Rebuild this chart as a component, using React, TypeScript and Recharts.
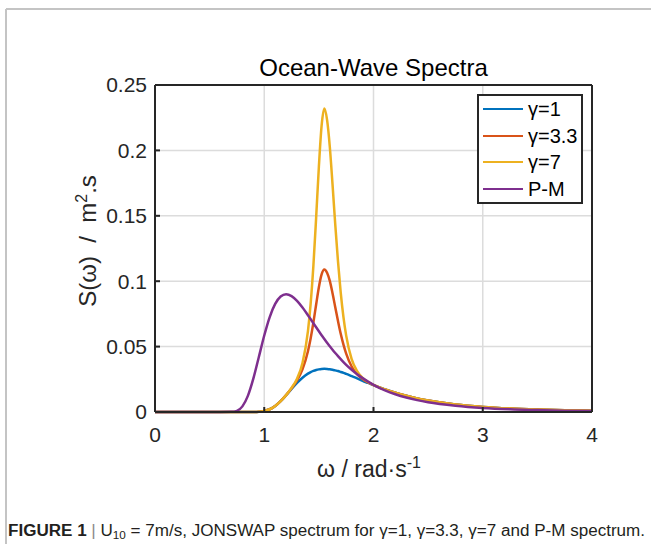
import React from 'react';
import { LineChart, Line, XAxis, YAxis, CartesianGrid, Legend } from 'recharts';

// angular frequency (rad/s)
const OMEGA = [0, 0.25, 0.5, 0.6, 0.7, 0.75, 0.8, 0.85, 0.9, 0.95, 1.0, 1.05, 1.1, 1.15, 1.2, 1.25, 1.3, 1.35, 1.4, 1.425, 1.45, 1.475, 1.5, 1.525, 1.55, 1.575, 1.6, 1.625, 1.65, 1.675, 1.7, 1.725, 1.75, 1.8, 1.85, 1.9, 1.95, 2.0, 2.1, 2.2, 2.3, 2.4, 2.5, 2.75, 3.0, 3.25, 3.5, 3.75, 4.0];

// S(w) per spectrum
const S_G1 = [0, 0, 0, 0, 0, 0, 0, 0, 0.00003, 0.0002, 0.0008, 0.0021, 0.0046, 0.0083, 0.0128, 0.0176, 0.0222, 0.0262, 0.0293, 0.0305, 0.0314, 0.0321, 0.0326, 0.0329, 0.033, 0.0329, 0.0327, 0.0323, 0.0318, 0.0313, 0.0306, 0.0299, 0.0291, 0.0274, 0.0257, 0.0239, 0.0222, 0.0205, 0.0174, 0.0147, 0.0124, 0.0104, 0.0088, 0.0058, 0.0039, 0.0027, 0.0019, 0.0013, 0.001];
const S_G33 = [0, 0, 0, 0, 0, 0, 0, 0, 0.00003, 0.0002, 0.0008, 0.0021, 0.0046, 0.0083, 0.0129, 0.0181, 0.0241, 0.0326, 0.0464, 0.0564, 0.0685, 0.0822, 0.0954, 0.1052, 0.109, 0.1065, 0.1002, 0.0908, 0.0801, 0.0696, 0.0598, 0.0515, 0.0446, 0.0348, 0.0289, 0.0252, 0.0226, 0.0206, 0.0174, 0.0147, 0.0124, 0.0104, 0.0088, 0.0058, 0.0039, 0.0027, 0.0019, 0.0013, 0.001];
const S_G7 = [0, 0, 0, 0, 0, 0, 0, 0, 0.00003, 0.0002, 0.0008, 0.0021, 0.0046, 0.0083, 0.0129, 0.0184, 0.0255, 0.0374, 0.0619, 0.0831, 0.1121, 0.1486, 0.1875, 0.2189, 0.232, 0.2233, 0.2028, 0.174, 0.1432, 0.1151, 0.0912, 0.0725, 0.0584, 0.0405, 0.0312, 0.026, 0.0229, 0.0207, 0.0174, 0.0147, 0.0124, 0.0104, 0.0088, 0.0058, 0.0039, 0.0027, 0.0019, 0.0013, 0.001];
const S_PM = [0, 0, 0, 0, 0.0001, 0.0009, 0.0043, 0.0123, 0.0255, 0.0419, 0.0585, 0.0726, 0.0826, 0.0883, 0.09, 0.0886, 0.085, 0.0799, 0.074, 0.0709, 0.0678, 0.0648, 0.0617, 0.0587, 0.0558, 0.0529, 0.0502, 0.0476, 0.0451, 0.0427, 0.0404, 0.0382, 0.0361, 0.0323, 0.0289, 0.0259, 0.0232, 0.0208, 0.0167, 0.0136, 0.0111, 0.0091, 0.0075, 0.0048, 0.0031, 0.0021, 0.0015, 0.001, 0.0008];

const X_TICKS = [0, 1, 2, 3, 4];
const Y_TICKS = [0, 0.05, 0.1, 0.15, 0.2, 0.25];

const SERIES = [
  { key: 'g1', name: 'γ=1', color: '#0072BD' },
  { key: 'g33', name: 'γ=3.3', color: '#D95319' },
  { key: 'g7', name: 'γ=7', color: '#EDB120' },
  { key: 'pm', name: 'P-M', color: '#7E2F8E' },
];

const data = OMEGA.map((w, i) => ({ w, g1: S_G1[i], g33: S_G33[i], g7: S_G7[i], pm: S_PM[i] }));

const FONT = '"Liberation Sans", Arial, Helvetica, sans-serif';
const AX = '#262626';
const NB = '\u00a0';

// legend keeps the plotting order, not recharts' sorted payload
const LegendBox = () => (
  <div style={{ border: `2px solid ${AX}`, background: '#fff', width: 102, fontFamily: FONT }}>
    {SERIES.map((s) => (
      <div key={s.key} style={{ display: 'flex', alignItems: 'center', height: 26.5 }}>
        <div style={{ width: 40, height: 2, background: s.color, marginLeft: 4, marginRight: 5 }} />
        <span style={{ fontSize: 20, color: '#000', lineHeight: '20px' }}>{s.name}</span>
      </div>
    ))}
  </div>
);

export default function App() {
  return (
    <div style={{ position: 'absolute', left: 0, top: 0, width: 651, height: 544, background: '#fff', fontFamily: FONT }}>
      <div style={{ position: 'absolute', left: 0, top: 0 }}>
        <LineChart width={651} height={544} data={data} margin={{ top: 55, right: 0, bottom: 0, left: 0 }}>
          <CartesianGrid stroke="#dcdcdc" strokeWidth={1.5} />
          <XAxis
            dataKey="w"
            type="number"
            domain={[0, 4]}
            ticks={X_TICKS}
            interval={0}
            height={132}
            tickSize={-5}
            tickMargin={20}
            axisLine={{ stroke: AX, strokeWidth: 2 }}
            tickLine={{ stroke: AX, strokeWidth: 2 }}
            tick={{ fill: AX, fontSize: 21, fontFamily: FONT }}
          />
          <XAxis
            xAxisId="top"
            orientation="top"
            type="number"
            domain={[0, 4]}
            ticks={X_TICKS}
            interval={0}
            height={30}
            tickSize={-5}
            tick={false}
            axisLine={{ stroke: AX, strokeWidth: 2 }}
            tickLine={{ stroke: AX, strokeWidth: 2 }}
          />
          <YAxis
            type="number"
            domain={[0, 0.25]}
            ticks={Y_TICKS}
            interval={0}
            width={155}
            tickSize={-5}
            tickMargin={13}
            axisLine={{ stroke: AX, strokeWidth: 2 }}
            tickLine={{ stroke: AX, strokeWidth: 2 }}
            tick={{ fill: AX, fontSize: 21, fontFamily: FONT }}
          />
          <YAxis
            yAxisId="r"
            orientation="right"
            type="number"
            domain={[0, 0.25]}
            ticks={Y_TICKS}
            interval={0}
            width={59}
            tickSize={-5}
            tick={false}
            axisLine={{ stroke: AX, strokeWidth: 2 }}
            tickLine={{ stroke: AX, strokeWidth: 2 }}
          />
          {SERIES.map((s) => (
            <Line
              key={s.key}
              dataKey={s.key}
              name={s.name}
              stroke={s.color}
              strokeWidth={2.5}
              type="monotone"
              dot={false}
              activeDot={false}
              isAnimationActive={false}
            />
          ))}
          <Legend
            layout="vertical"
            align="center"
            verticalAlign="middle"
            wrapperStyle={{ left: 477, top: 94, width: 'auto', height: 'auto' }}
            content={LegendBox}
          />
        </LineChart>
      </div>
      <svg width={651} height={544} style={{ position: 'absolute', left: 0, top: 0, pointerEvents: 'none' }}>
        <path d="M6,9 H651 M6,9 V544" stroke="#c4c4c4" strokeWidth={2} fill="none" />
        <text x={373.5} y={76} textAnchor="middle" fontSize={24} fontFamily={FONT} fill="#000">
          Ocean-Wave Spectra
        </text>
        <text x={369} y={477} textAnchor="middle" fontSize={23} fontFamily={FONT} fill={AX}>
          ω / rad·s
          <tspan fontSize={16} dy={-9}>-1</tspan>
        </text>
        <text
          x={96}
          y={241}
          transform="rotate(-90, 96, 241)"
          textAnchor="middle"
          fontSize={24}
          fontFamily={FONT}
          fill={AX}
        >
          {`S(ω)${NB}${NB}/${NB}${NB}m`}
          <tspan fontSize={16} dy={-9}>2</tspan>
          <tspan dy={9}>.s</tspan>
        </text>
        <text x={8} y={536} fontSize={16} fontFamily={FONT} fill="#231f20" textLength={637} lengthAdjust="spacingAndGlyphs">
          <tspan fontWeight="bold">FIGURE 1</tspan>
          <tspan fill="#8a8a8a">{'  |  '}</tspan>
          <tspan>U</tspan>
          <tspan fontSize={11} dy={3}>10</tspan>
          <tspan dy={-3}> = 7m/s, JONSWAP spectrum for γ=1, γ=3.3, γ=7 and P-M spectrum.</tspan>
        </text>
      </svg>
    </div>
  );
}
